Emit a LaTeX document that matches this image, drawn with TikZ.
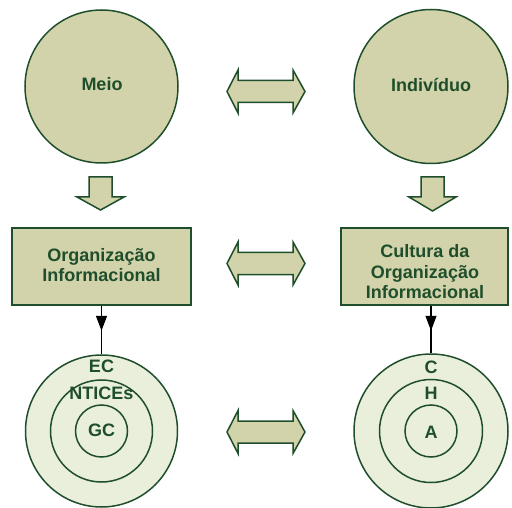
\documentclass[tikz,border=0pt]{standalone}
\usepackage{fontspec}
\setmainfont{Liberation Sans}
\usetikzlibrary{arrows.meta,decorations.markings}
\definecolor{dkgreen}{RGB}{31,78,44}
\definecolor{khaki}{RGB}{210,211,170}
\definecolor{pale}{RGB}{234,239,220}
\tikzset{
  bigcirc/.style={circle, draw=dkgreen, fill=khaki, line width=1.5pt, inner sep=0pt, minimum size=153pt},
  ring/.style={circle, draw=dkgreen, fill=pale, line width=1.5pt, inner sep=0pt},
  infobox/.style={rectangle, draw=dkgreen, fill=khaki, line width=1.5pt, inner sep=0pt},
  lbl/.style={text=dkgreen, font=\bfseries\fontsize{18}{20.5}\selectfont, inner sep=0pt, align=center},
  blockarrow/.style={draw=dkgreen, fill=khaki, line width=1.5pt, line join=miter},
  link/.style={black, line width=1.3pt, postaction={decorate},
     decoration={markings, mark=at position 25pt with {\arrow{Triangle[length=15pt,width=11pt]}}}}
}
\begin{document}
\begin{tikzpicture}[x=1pt,y=-1pt]
\useasboundingbox (0,0) rectangle (512,508);
% top circles
\node[bigcirc] (meio) at (101.5,86.5) {};
\node[bigcirc, minimum size=154pt] (indiv) at (431,86.5) {};
\node[lbl] (meiotxt) at (102,84) {Meio};
\node[lbl] (indivtxt) at (431,84.5) {Indivíduo};
% boxes
\node[infobox, minimum width=179pt, minimum height=77pt] (org) at (101.5,266.5) {};
\node[infobox, minimum width=167pt, minimum height=77pt] (cult) at (424.5,266.5) {};
\node[lbl, font=\bfseries\fontsize{18}{19.5}\selectfont] (orgtxt) at (101.5,265) {Organização\\Informacional};
\node[lbl] (culttxt) at (425,272) {Cultura da\\Organização\\Informacional};
% bottom rings
\node[ring, minimum size=152pt] (ecL) at (101.5,431) {};
\node[ring, minimum size=102pt] (ntL) at (101.5,431) {};
\node[ring, minimum size=52pt] (gcL) at (101.5,431) {};
\node[ring, minimum size=154pt] (cR) at (431,431) {};
\node[ring, minimum size=103pt] (hR) at (431,431) {};
\node[ring, minimum size=52pt] (aR) at (431,431) {};
\node[lbl] (ec) at (101.5,366.5) {EC};
\node[lbl] (ntices) at (101.5,393.5) {NTICEs};
\node[lbl] (gc) at (101.5,430.5) {GC};
\node[lbl] (c) at (431,367.5) {C};
\node[lbl] (h) at (431,393.5) {H};
\node[lbl] (a) at (431,432) {A};
% connectors
\draw[link] (org.south) -- (ecL.north);
\draw[link] (cult.south -| cR.north) -- (cR.north);
% down block arrows
\draw[blockarrow] (89,177) -- (112,177) -- (112,197) -- (124,197) -- (100.5,210) -- (77,197) -- (89,197) -- cycle;
\draw[blockarrow] (421,177) -- (444,177) -- (444,197) -- (456,197) -- (432.5,211) -- (409,197) -- (421,197) -- cycle;
% double block arrows
\foreach \yc in {91.5, 263.5, 432} {
  \draw[blockarrow] (227,\yc) -- (238,\yc-21.5) -- (238,\yc-11) -- (293,\yc-11) -- (293,\yc-21.5) -- (305,\yc)
    -- (293,\yc+21.5) -- (293,\yc+11) -- (238,\yc+11) -- (238,\yc+21.5) -- cycle;
}
\end{tikzpicture}
\end{document}
